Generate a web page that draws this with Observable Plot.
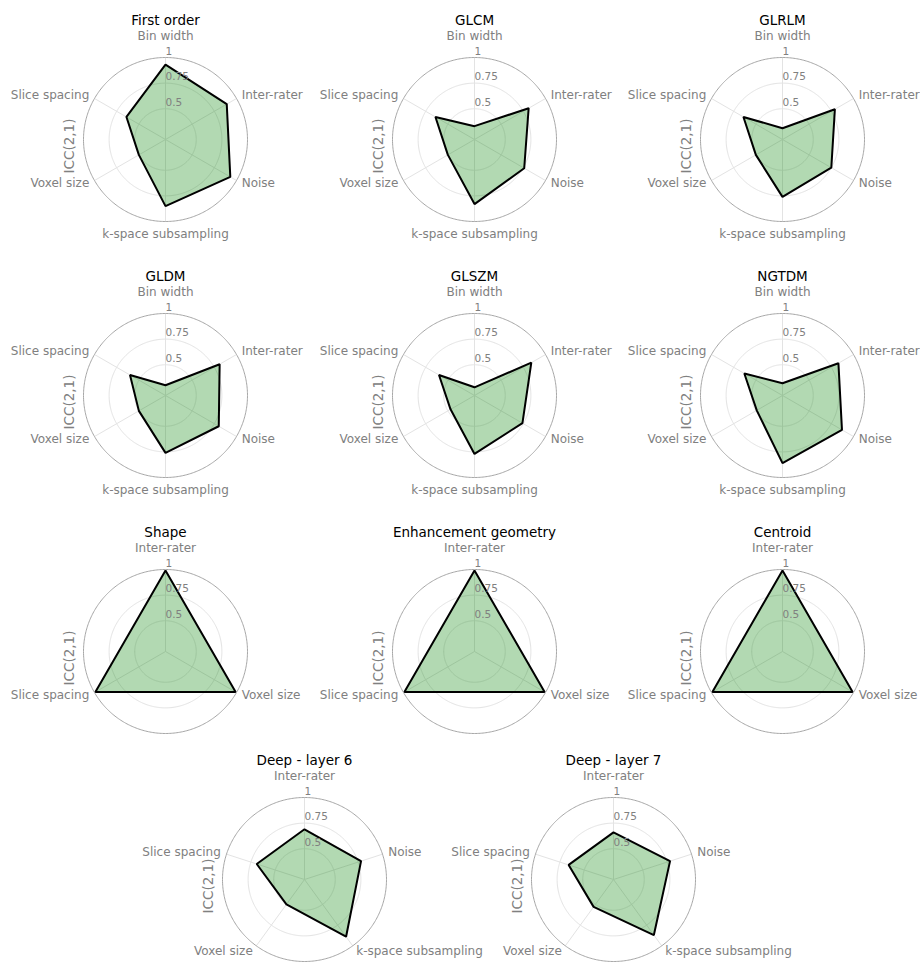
<!DOCTYPE html>
<html>
<head>
<meta charset="utf-8">
<script src="https://cdn.jsdelivr.net/npm/d3@7"></script>
<script src="https://cdn.jsdelivr.net/npm/@observablehq/plot@0.6"></script>
<style>
html, body { margin: 0; padding: 0; background: #fff; }
#page { position: relative; width: 920px; height: 963px; overflow: hidden; font-family: "DejaVu Sans", sans-serif; }
#page svg { position: absolute; overflow: visible; }
</style>
</head>
<body>
<div id="page"></div>
<script>
// ---------- data ----------
const textureAxes = ["Bin width", "Inter-rater", "Noise", "k-space subsampling", "Voxel size", "Slice spacing"];
const shapeAxes = ["Inter-rater", "Voxel size", "Slice spacing"];
const deepAxes = ["Inter-rater", "Noise", "k-space subsampling", "Voxel size", "Slice spacing"];

const firstOrder  = [0.93, 0.89, 0.93, 0.85, 0.50, 0.64];
const glcm        = [0.33, 0.81, 0.76, 0.83, 0.50, 0.64];
const glrlm       = [0.31, 0.79, 0.75, 0.76, 0.50, 0.64];
const gldm        = [0.30, 0.81, 0.80, 0.76, 0.50, 0.60];
const glszm       = [0.28, 0.84, 0.74, 0.77, 0.47, 0.60];
const ngtdm       = [0.32, 0.83, 0.87, 0.86, 0.49, 0.63];
const shape       = [0.99, 0.99, 0.99];
const enhancement = [0.99, 0.99, 0.99];
const centroid    = [0.99, 0.99, 0.99];
const deepLayer6  = [0.69, 0.78, 0.89, 0.50, 0.69];
const deepLayer7  = [0.66, 0.78, 0.87, 0.53, 0.66];

const titles = ["First order", "GLCM", "GLRLM", "GLDM", "GLSZM", "NGTDM",
                "Shape", "Enhancement geometry", "Centroid", "Deep - layer 6", "Deep - layer 7"];
const rTicks = [0.5, 0.75, 1];
const rTickLabels = ["0.5", "0.75", "1"];
const yLabel = "ICC(2,1)";
const rMin = 0.2;

// ---------- layout ----------
const charts = [
  {title: titles[0],  axes: textureAxes, values: firstOrder,  cx: 165, cy: 139},
  {title: titles[1],  axes: textureAxes, values: glcm,        cx: 474, cy: 139},
  {title: titles[2],  axes: textureAxes, values: glrlm,       cx: 782, cy: 139},
  {title: titles[3],  axes: textureAxes, values: gldm,        cx: 165, cy: 394.5},
  {title: titles[4],  axes: textureAxes, values: glszm,       cx: 474, cy: 394.5},
  {title: titles[5],  axes: textureAxes, values: ngtdm,       cx: 782, cy: 394.5},
  {title: titles[6],  axes: shapeAxes,   values: shape,       cx: 165, cy: 650.5},
  {title: titles[7],  axes: shapeAxes,   values: enhancement, cx: 474, cy: 650.5},
  {title: titles[8],  axes: shapeAxes,   values: centroid,    cx: 782, cy: 650.5},
  {title: titles[9],  axes: deepAxes,    values: deepLayer6,  cx: 304, cy: 879},
  {title: titles[10], axes: deepAxes,    values: deepLayer7,  cx: 613, cy: 879}
];

const R = 82;               // px radius of outer ring
const W = 310, H = 250;     // svg size
const CX = 155, CY = 130;   // center inside svg
const GREY = "#808080";
const FONT = "DejaVu Sans";

function radar({title, axes, values}) {
  const n = axes.length;
  const lon = (i) => 180 - 360 * i / n;            // clockwise from top
  const rad = (v) => (v - rMin) / (1 - rMin);      // arc degrees, 1 = outer ring
  const lat = (v) => 90 - rad(v);
  const pts = axes.map((a, i) => ({axis: a, i, value: values[i]}));
  const labs = axes.map((a, i) => ({axis: a, i, theta: 360 * i / n}));
  const top = labs.filter(d => d.theta < 1);
  const bottom = labs.filter(d => Math.abs(d.theta - 180) < 1);
  const right = labs.filter(d => d.theta > 1 && d.theta < 179);
  const left = labs.filter(d => d.theta > 181);
  const ticks = rTicks.map((v, k) => ({v, label: rTickLabels[k]}));
  const labelStyle = {text: "axis", fill: GREY, fontSize: 12, fontFamily: FONT};
  return Plot.plot({
    width: W, height: H,
    marginLeft: CX - R, marginRight: W - CX - R,
    marginTop: CY - R, marginBottom: H - CY - R,
    style: {fontFamily: FONT, overflow: "visible", background: "transparent"},
    projection: {
      type: "azimuthal-equidistant",
      rotate: [0, -90],
      clip: false,
      domain: d3.geoCircle().center([0, 90]).radius(1).precision(1)()
    },
    marks: [
      // inner rings
      Plot.geo(rTicks.filter(v => v < 1), {
        geometry: (v) => d3.geoCircle().center([0, 90]).radius(rad(v)).precision(1)(),
        stroke: "#e3e3e3", strokeWidth: 1, fill: "none"
      }),
      // spokes
      Plot.link(labs, {x1: d => lon(d.i), y1: 89, x2: 0, y2: 90, stroke: "#e3e3e3", strokeWidth: 1}),
      // outer ring
      Plot.geo([1], {
        geometry: (v) => d3.geoCircle().center([0, 90]).radius(rad(v)).precision(1)(),
        stroke: "#a6a6a6", strokeWidth: 1, fill: "none"
      }),
      // data polygon
      Plot.line(pts, {
        x: d => lon(d.i), y: d => lat(d.value),
        curve: "linear-closed",
        fill: "green", fillOpacity: 0.3,
        stroke: "black", strokeWidth: 2, strokeLinejoin: "miter"
      }),
      // radial tick labels
      Plot.text(ticks, {
        x: 180, y: d => lat(d.v), text: "label",
        textAnchor: "start", lineAnchor: "bottom", dx: 0, dy: -3,
        fill: GREY, fontSize: 10.5, fontFamily: FONT
      }),
      // category labels
      Plot.text(top, {...labelStyle, x: d => lon(d.i), y: 90 - 99.5 / R, textAnchor: "middle", lineAnchor: "bottom"}),
      Plot.text(bottom, {...labelStyle, x: d => lon(d.i), y: 90 - 89.5 / R, textAnchor: "middle", lineAnchor: "top"}),
      Plot.text(right, {...labelStyle, x: d => lon(d.i), y: 90 - 88 / R, textAnchor: "start", lineAnchor: "middle"}),
      Plot.text(left, {...labelStyle, x: d => lon(d.i), y: 90 - 88 / R, textAnchor: "end", lineAnchor: "middle"}),
      // y label
      Plot.text([yLabel], {
        frameAnchor: "left", text: d => d, rotate: -90, dx: -14, dy: 6.5,
        textAnchor: "middle", lineAnchor: "middle",
        fill: GREY, fontSize: 13.5, fontFamily: FONT
      }),
      // title
      Plot.text([title], {
        frameAnchor: "top", text: d => d, dy: -33,
        textAnchor: "middle", lineAnchor: "bottom",
        fill: "black", fontSize: 13.5, fontFamily: FONT
      })
    ]
  });
}

const page = document.getElementById("page");
for (const c of charts) {
  const svg = radar(c);
  svg.style.left = (c.cx - CX) + "px";
  svg.style.top = (c.cy - CY) + "px";
  page.appendChild(svg);
}
</script>
</body>
</html>
